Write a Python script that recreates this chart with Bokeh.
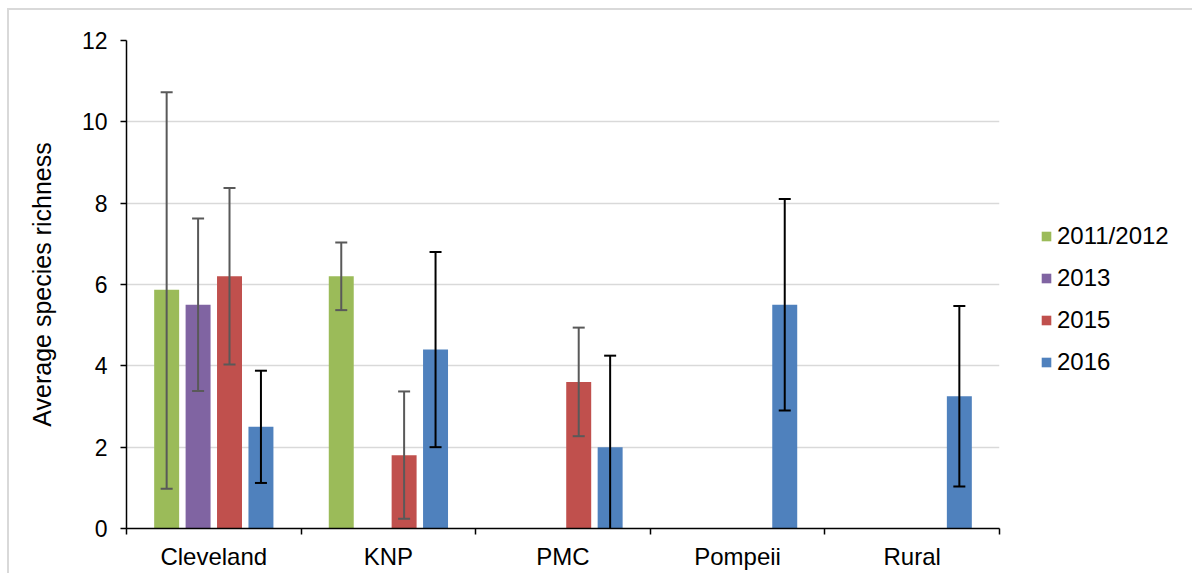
from bokeh.plotting import figure
from bokeh.models import (ColumnDataSource, Range1d, FixedTicker, Whisker, TeeHead,
                          Legend, LegendItem)
from bokeh.transform import dodge
from bokeh.embed import file_html
from bokeh.resources import INLINE

categories = ["Cleveland", "KNP", "PMC", "Pompeii", "Rural"]
series = ["2011/2012", "2013", "2015", "2016"]
colors = ["#9BBB59", "#8064A2", "#C0504D", "#4F81BD"]
err_colors = ["#595959", "#595959", "#595959", "#000000"]

# mean values (None = no bar)
v_2011 = [5.87, 6.2, None, None, None]
v_2013 = [5.5, None, None, None, None]
v_2015 = [6.2, 1.8, 3.6, None, None]
v_2016 = [2.5, 4.4, 2.0, 5.5, 3.25]

lo_2011 = [0.98, 5.37, None, None, None]
hi_2011 = [10.73, 7.03, None, None, None]
lo_2013 = [3.38, None, None, None, None]
hi_2013 = [7.62, None, None, None, None]
lo_2015 = [4.03, 0.24, 2.27, None, None]
hi_2015 = [8.37, 3.37, 4.94, None, None]
lo_2016 = [1.12, 2.0, -0.25, 2.9, 1.03]
hi_2016 = [3.88, 6.8, 4.25, 8.1, 5.47]

values = [v_2011, v_2013, v_2015, v_2016]
lows = [lo_2011, lo_2013, lo_2015, lo_2016]
highs = [hi_2011, hi_2013, hi_2015, hi_2016]
offsets = [-0.27, -0.09, 0.09, 0.27]

FONT = "Liberation Sans"

p = figure(width=1174, height=563, output_backend="svg", toolbar_location=None,
           x_range=Range1d(0, 5), y_range=Range1d(0, 12),
           min_border_left=117, min_border_top=30, min_border_bottom=45,
           min_border_right=184, frame_width=873, frame_height=488,
           styles={"border-top": "2px solid #d9d9d9", "border-left": "2px solid #d9d9d9",
                   "margin-left": "7px", "margin-top": "8px"})
p.outline_line_color = None
p.background_fill_color = "white"
p.border_fill_color = "white"

legend_items = []
for i, s in enumerate(series):
    xs, tops, los, his = [], [], [], []
    for j, c in enumerate(categories):
        if values[i][j] is not None:
            xs.append(j + 0.5)
            tops.append(values[i][j])
            los.append(lows[i][j])
            his.append(highs[i][j])
    src = ColumnDataSource(dict(x=xs, top=tops, lo=los, hi=his))
    r = p.vbar(x=dodge("x", offsets[i]), top="top", bottom=0, width=0.143, source=src,
               fill_color=colors[i], line_color=None)
    w = Whisker(base=dodge("x", offsets[i]), lower="lo", upper="hi", source=src,
                level="overlay",
                line_color=err_colors[i], line_width=2,
                upper_head=TeeHead(size=12, line_color=err_colors[i], line_width=2),
                lower_head=TeeHead(size=12, line_color=err_colors[i], line_width=2))
    p.add_layout(w)
    legend_items.append(LegendItem(label=s, renderers=[r]))

# axes
p.yaxis.ticker = FixedTicker(ticks=[0, 2, 4, 6, 8, 10, 12])
p.yaxis.axis_label = "Average species richness"
p.yaxis.axis_label_text_font = FONT
p.yaxis.axis_label_text_font_size = "25px"
p.yaxis.axis_label_text_font_style = "normal"
p.yaxis.axis_label_text_color = "black"
p.yaxis.axis_label_standoff = 23
p.yaxis.major_label_text_font = FONT
p.yaxis.major_label_text_font_size = "23px"
p.yaxis.major_label_text_color = "black"
p.yaxis.major_tick_in = 0
p.yaxis.major_tick_out = 6
p.yaxis.minor_tick_line_color = None
p.yaxis.axis_line_color = "black"
p.yaxis.axis_line_width = 1.5
p.yaxis.major_tick_line_color = "black"
p.yaxis.major_tick_line_width = 1.5
p.yaxis.major_label_standoff = 13

p.xaxis.ticker = FixedTicker(ticks=[j + 0.5 for j in range(len(categories))],
                             minor_ticks=list(range(len(categories) + 1)))
p.xaxis.major_label_overrides = {j + 0.5: c for j, c in enumerate(categories)}
p.xaxis.major_label_text_font = FONT
p.xaxis.major_label_text_font_size = "24px"
p.xaxis.major_label_text_color = "black"
p.xaxis.major_tick_line_color = None
p.xaxis.major_tick_out = 0
p.xaxis.major_tick_in = 0
p.xaxis.minor_tick_out = 6
p.xaxis.minor_tick_in = 0
p.xaxis.minor_tick_line_color = "black"
p.xaxis.minor_tick_line_width = 1.5
p.xaxis.axis_line_color = "black"
p.xaxis.axis_line_width = 1.5
p.xaxis.major_label_standoff = 8

p.xgrid.grid_line_color = None
p.ygrid.ticker = FixedTicker(ticks=[2, 4, 6, 8, 10, 12])
p.ygrid.grid_line_color = "#d9d9d9"
p.ygrid.grid_line_width = 1.5

legend = Legend(items=legend_items, location=(41, 152), orientation="vertical",
                background_fill_alpha=0, border_line_color=None,
                padding=0, margin=0, spacing=14, glyph_width=12, glyph_height=12,
                label_height=20, label_standoff=5,
                label_text_font=FONT, label_text_font_size="24px", label_text_color="black")
p.add_layout(legend, "right")

open("out.html", "w").write(file_html(p, INLINE))
